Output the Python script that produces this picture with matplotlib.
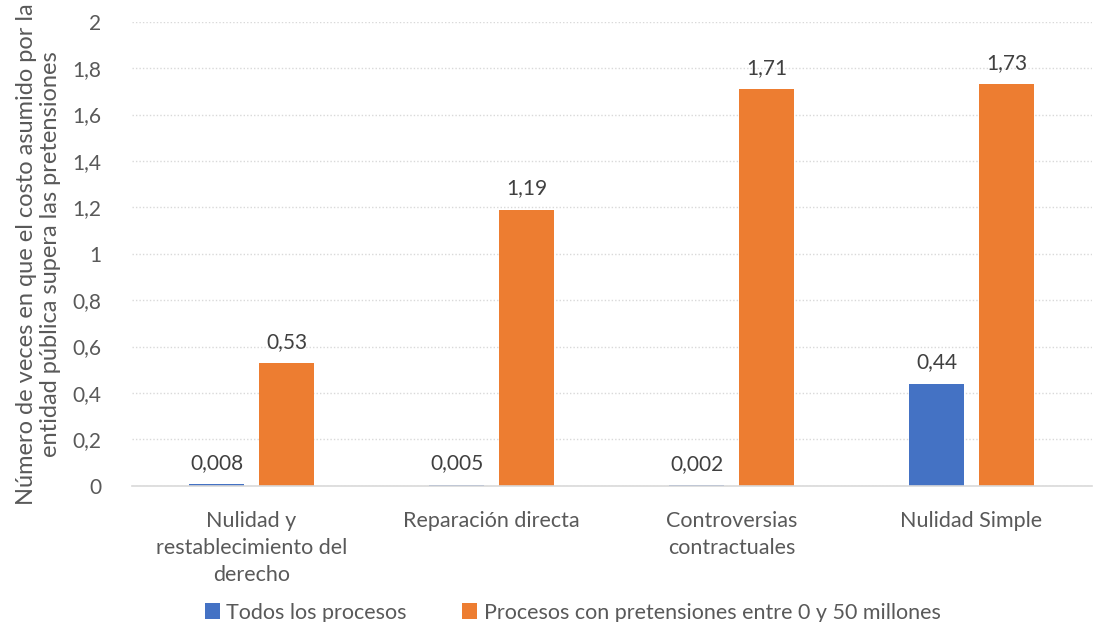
import numpy as np
import matplotlib.pyplot as plt
from matplotlib.ticker import FuncFormatter

plt.rcParams['font.family'] = ['Lato', 'DejaVu Sans']

categorias = ["Nulidad y\nrestablecimiento del\nderecho", "Reparación directa",
              "Controversias\ncontractuales", "Nulidad Simple"]
todos = [0.008, 0.005, 0.002, 0.44]
pretensiones = [0.53, 1.19, 1.71, 1.73]
etiquetas_todos = ["0,008", "0,005", "0,002", "0,44"]
etiquetas_pret = ["0,53", "1,19", "1,71", "1,73"]

azul = "#4472C4"
naranja = "#ED7D31"
gris = "#595959"


def fmt(v, p):
    s = f"{v:.1f}".replace(".", ",")
    return s[:-2] if s.endswith(",0") else s


fig = plt.figure(figsize=(10.97, 6.22), dpi=100)
ax = fig.add_axes([0.120, 0.219, 0.875, 0.746])

x = np.arange(len(categorias))
w = 0.23
off = 0.146
b1 = ax.bar(x - off, todos, w, color=azul, label="Todos los procesos")
b2 = ax.bar(x + off, pretensiones, w, color=naranja,
            label="Procesos con pretensiones entre 0 y 50 millones")

for rect, lab in zip(b1, etiquetas_todos):
    ax.annotate(lab, (rect.get_x() + rect.get_width() / 2, rect.get_height()),
                xytext=(0, 8), textcoords="offset points", ha="center", va="bottom",
                fontsize=15, color="#404040")
for rect, lab in zip(b2, etiquetas_pret):
    ax.annotate(lab, (rect.get_x() + rect.get_width() / 2, rect.get_height()),
                xytext=(0, 8), textcoords="offset points", ha="center", va="bottom",
                fontsize=15, color="#404040")

ax.set_xlim(-0.5, 3.5)
ax.set_ylim(0, 2)
ax.set_yticks(np.arange(0, 2.01, 0.2))
ax.yaxis.set_major_formatter(FuncFormatter(fmt))
ax.set_xticks(x)
ax.set_xticklabels(categorias, fontsize=15.5, color=gris, linespacing=1.45)
ax.tick_params(axis="y", labelsize=15, labelcolor=gris, length=0, pad=22)
ax.tick_params(axis="x", length=0, pad=18)

ax.grid(axis="y", color="#D9D9D9", linestyle=(0, (1, 1.5)), linewidth=1)
ax.set_axisbelow(True)
for s in ["top", "right", "left"]:
    ax.spines[s].set_visible(False)
ax.spines["bottom"].set_color("#D9D9D9")
ax.spines["bottom"].set_linewidth(1.2)

ax.set_ylabel("Número de veces en que el costo asumido por la\nentidad pública supera las pretensiones",
              fontsize=17, color=gris, labelpad=8, linespacing=1.15)

fig.legend(loc="lower center", bbox_to_anchor=(0.522, -0.032), ncol=2, frameon=False,
           fontsize=15.5, labelcolor=gris, handlelength=0.7, handleheight=0.7,
           handletextpad=0.3, columnspacing=2.56)

fig.savefig("out.png", dpi=100)
